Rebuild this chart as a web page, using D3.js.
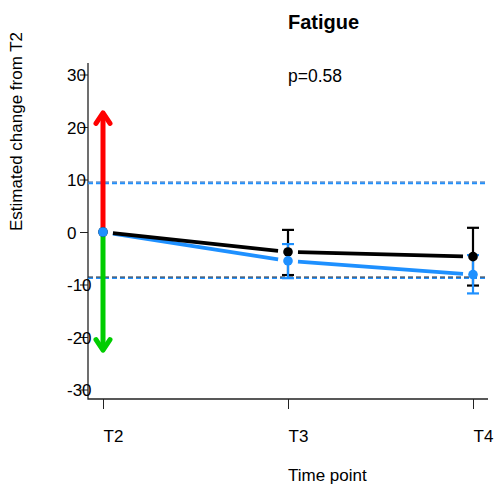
<!DOCTYPE html>
<html><head><meta charset="utf-8">
<script src="https://cdn.jsdelivr.net/npm/d3@7"></script>
<style>body{margin:0;background:#fff}svg{display:block;font-family:"Liberation Sans",Arial,sans-serif}</style>
</head><body><svg id="c" width="495" height="486"></svg>
<script>
const timepoints = ["T2","T3","T4"];
const yTicks = [-30,-20,-10,0,10,20,30];
const blackMean = [0, -3.8, -4.7];
const blackLower = [0, -8.2, -10.2];
const blackUpper = [0, 0.4, 0.8];
const blueMean = [0, -5.5, -8.1];
const blueLower = [0, -8.8, -11.7];
const blueUpper = [0, -2.3, -4.4];
const thresholds = [9.4, -8.7];
const arrowEnds = [22.7, -22.5];
const arrowColors = ["#ff0000", "#00cd00"];
const title = "Fatigue";
const pLabel = "p=0.58";

const svg = d3.select("#c");
const x = d3.scalePoint().domain(timepoints).range([103, 473]);
const y = d3.scaleLinear().domain([-30, 30]).range([389.5, 74.5]);
const plot = {left: 88, right: 488, top: 63, bottom: 399};
const BLUE = "#1e90ff";

svg.append("path").attr("d", `M${plot.left},${plot.top}V${plot.bottom}H${plot.right}`)
  .attr("fill","none").attr("stroke","#222").attr("stroke-width",1.3);

const ya = svg.append("g").attr("transform",`translate(${plot.left},0)`)
  .call(d3.axisLeft(y).tickValues(yTicks).tickSize(8).tickFormat(d => String(d)));
ya.select(".domain").remove();
ya.selectAll("line").attr("stroke","#222");
ya.selectAll("text").attr("text-anchor","start").attr("x",-21).attr("dy","0.36em")
  .attr("font-size",17).attr("fill","#000");

const xa = svg.append("g").attr("transform",`translate(0,${plot.bottom})`)
  .call(d3.axisBottom(x).tickSize(10));
xa.select(".domain").remove();
xa.selectAll("line").attr("stroke","#222");
xa.selectAll("text").attr("text-anchor","start").attr("x",0).attr("y",43).attr("dy",0)
  .attr("font-size",17).attr("fill","#000");

// threshold dashed lines (dark + blue overlapped)
const dashStyles = [
  {dark:"#1a4f9a", dw:1.0, bw:1.7},
  {dark:"#18263a", dw:1.4, bw:1.1}
];
thresholds.forEach((t,i) => {
  const s = dashStyles[i];
  svg.append("line").attr("x1",plot.left).attr("x2",plot.right)
    .attr("y1",y(t)-0.6).attr("y2",y(t)-0.6)
    .attr("stroke", s.dark).attr("stroke-width",s.dw).attr("stroke-dasharray","5,3");
  svg.append("line").attr("x1",plot.left).attr("x2",plot.right)
    .attr("y1",y(t)+0.7).attr("y2",y(t)+0.7)
    .attr("stroke",BLUE).attr("stroke-width",s.bw).attr("stroke-dasharray","5,3");
});

arrowEnds.forEach((v,i) => {
  const x0 = x("T2"), y0 = y(0), y1 = y(v);
  const dir = v > 0 ? 1 : -1;
  const g = svg.append("g").attr("stroke",arrowColors[i]).attr("stroke-width",5)
    .attr("fill","none").attr("stroke-linecap","round").attr("stroke-linejoin","round");
  g.append("line").attr("x1",x0).attr("x2",x0).attr("y1",y0).attr("y2",y1+dir*1.5);
  g.append("path").attr("d",`M${x0-7},${y1+dir*10.5}L${x0},${y1}L${x0+7},${y1+dir*10.5}`);
});

function gappedLine(vals, color){
  const pts = timepoints.map((t,i)=>[x(t), y(vals[i])]);
  const gap = 10;
  for (let i=0;i<pts.length-1;i++){
    const [ax,ay]=pts[i], [bx,by]=pts[i+1];
    const L = Math.hypot(bx-ax,by-ay), ux=(bx-ax)/L, uy=(by-ay)/L;
    svg.append("line").attr("x1",ax+ux*gap).attr("y1",ay+uy*gap)
      .attr("x2",bx-ux*gap).attr("y2",by-uy*gap)
      .attr("stroke",color).attr("stroke-width",3.8).attr("stroke-linecap","butt");
  }
}
gappedLine(blueMean, BLUE);
gappedLine(blackMean, "#000");

function errBars(lo, hi, color){
  timepoints.forEach((t,i)=>{
    if (lo[i]===hi[i]) return;
    const cx = x(t);
    const g = svg.append("g").attr("stroke",color).attr("stroke-width",2.2);
    g.append("line").attr("x1",cx).attr("x2",cx).attr("y1",y(lo[i])).attr("y2",y(hi[i]));
    g.append("line").attr("x1",cx-6).attr("x2",cx+6).attr("y1",y(lo[i])).attr("y2",y(lo[i]));
    g.append("line").attr("x1",cx-6).attr("x2",cx+6).attr("y1",y(hi[i])).attr("y2",y(hi[i]));
  });
}
errBars(blackLower, blackUpper, "#000");
errBars(blueLower, blueUpper, BLUE);

function dots(vals, color){
  svg.append("g").selectAll("circle").data(timepoints).join("circle")
    .attr("cx", d=>x(d)).attr("cy",(d,i)=>y(vals[i])).attr("r",4.8).attr("fill",color);
}
dots(blackMean, "#000");
dots(blueMean, BLUE);

svg.append("text").attr("x",288).attr("y",29).attr("font-size",20).attr("font-weight","bold").text(title);
svg.append("text").attr("x",288).attr("y",82).attr("font-size",17.5).text(pLabel);
svg.append("text").attr("x",288).attr("y",481).attr("font-size",17).text("Time point");
svg.append("text").attr("transform",`translate(22,${y(0)-1}) rotate(-90)`).attr("font-size",17)
  .text("Estimated change from T2");
</script></body></html>
